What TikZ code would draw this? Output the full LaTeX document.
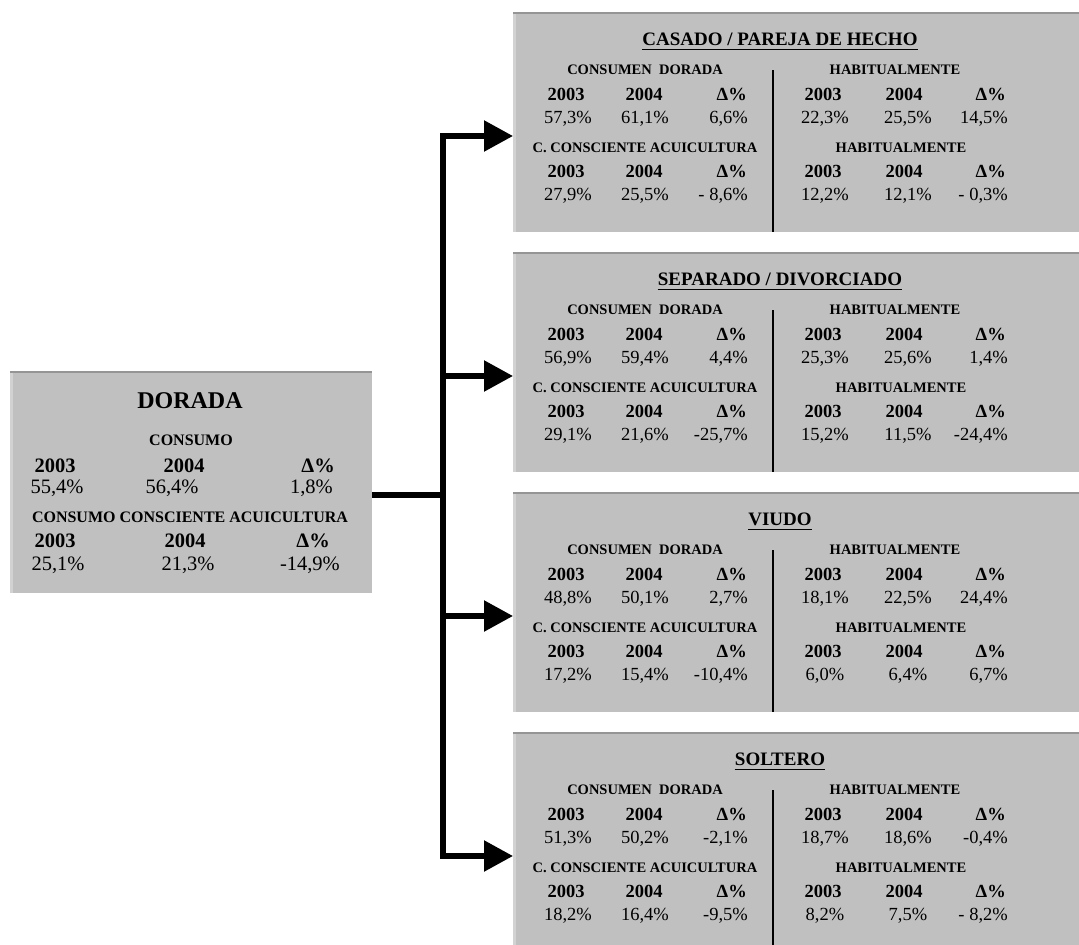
\documentclass[tikz,border=0pt]{standalone}
\usepackage{fontspec}
\setmainfont{Liberation Serif}
\usetikzlibrary{arrows.meta}

\definecolor{fondo}{HTML}{C0C0C0}
\definecolor{borde}{HTML}{959595}
\definecolor{luz}{HTML}{D2D2D2}

\tikzset{
  caja/.style={fill=fondo, draw=none, inner sep=0pt, anchor=north west},
  titulo/.style={font=\fontsize{19}{22}\selectfont\bfseries, inner sep=0pt, anchor=base},
  cab/.style={font=\fontsize{14.5}{16}\selectfont\bfseries, inner sep=0pt, anchor=base},
  anio/.style={font=\fontsize{18.5}{20}\selectfont\bfseries, inner sep=0pt, anchor=base},
  dato/.style={font=\fontsize{18.5}{20}\selectfont, inner sep=0pt, anchor=base},
  conn/.style={line width=5.5pt, -{Triangle[length=29pt,width=30pt]}},
}

% one grey box of the right column
\newcommand{\cuadro}[3]{%
  \node[caja, minimum width=570pt, minimum height=219pt] (#1) at (513,#2) {};
  \draw[luz, line width=2.5pt] ([xshift=1.25pt]#1.north west) -- ([xshift=1.25pt]#1.south west);
  \draw[borde, line width=1.5pt] (#1.north west) -- (#1.north east);
  \node[titulo] (#1-t) at ([shift={(267,32)}]#1.north west) {#3};
  \draw[line width=1.3pt] ([yshift=-4.5pt]#1-t.base west) -- ([yshift=-4.5pt]#1-t.base east);
  \draw[line width=1.2pt] ([shift={(260,57)}]#1.north west) -- ([shift={(260,219)}]#1.north west);
  \node[cab] (#1-h1) at ([shift={(132,61)}]#1.north west) {CONSUMEN\ \ DORADA};
  \node[cab] (#1-h2) at ([shift={(382,61)}]#1.north west) {HABITUALMENTE};
  \node[cab] (#1-h3) at ([shift={(132,139)}]#1.north west) {C. CONSCIENTE ACUICULTURA};
  \node[cab] (#1-h4) at ([shift={(388,139)}]#1.north west) {HABITUALMENTE};
  \foreach \f/\k in {87/a, 164/b} {
    \node[anio] (#1-\k1) at ([shift={(53,\f)}]#1.north west) {2003};
    \node[anio] (#1-\k2) at ([shift={(131,\f)}]#1.north west) {2004};
    \node[anio, anchor=base east] (#1-\k3) at ([shift={(234,\f)}]#1.north west) {Δ\%};
    \node[anio] (#1-\k4) at ([shift={(310,\f)}]#1.north west) {2003};
    \node[anio] (#1-\k5) at ([shift={(391,\f)}]#1.north west) {2004};
    \node[anio, anchor=base east] (#1-\k6) at ([shift={(493,\f)}]#1.north west) {Δ\%};
  }
}

% one row of percentages
\newcommand{\valores}[8]{%
  \node[dato] (#1-#2-1) at ([shift={(55,#2)}]#1.north west) {#3};
  \node[dato] (#1-#2-2) at ([shift={(132,#2)}]#1.north west) {#4};
  \node[dato, anchor=base east] (#1-#2-3) at ([shift={(235,#2)}]#1.north west) {#5};
  \node[dato] (#1-#2-4) at ([shift={(312,#2)}]#1.north west) {#6};
  \node[dato] (#1-#2-5) at ([shift={(395,#2)}]#1.north west) {#7};
  \node[dato, anchor=base east] (#1-#2-6) at ([shift={(495,#2)}]#1.north west) {#8};
}

\begin{document}
\begin{tikzpicture}[x=1pt, y=-1pt]
  \useasboundingbox (0,0) rectangle (1079,945);

  % left box
  \node[caja, minimum width=362pt, minimum height=221pt] (dorada) at (10,372) {};
  \draw[luz, line width=2.5pt] ([xshift=1.25pt]dorada.north west) -- ([xshift=1.25pt]dorada.south west);
  \draw[borde, line width=1.5pt] (dorada.north west) -- (dorada.north east);
  \node[titulo, font=\fontsize{24}{28}\selectfont\bfseries] (dor-t) at (190,408) {DORADA};
  \node[cab, font=\fontsize{16}{18}\selectfont\bfseries] (dor-h1) at (191,445) {CONSUMO};
  \node[anio, font=\fontsize{20.5}{22}\selectfont\bfseries] (dor-a1) at (55,472) {2003};
  \node[anio, font=\fontsize{20.5}{22}\selectfont\bfseries] (dor-a2) at (184,472) {2004};
  \node[anio, font=\fontsize{20.5}{22}\selectfont\bfseries, anchor=base east] (dor-a3) at (335,472) {Δ\%};
  \node[dato, font=\fontsize{20.5}{22}\selectfont] (dor-v1) at (57,493) {55,4\%};
  \node[dato, font=\fontsize{20.5}{22}\selectfont] (dor-v2) at (172,493) {56,4\%};
  \node[dato, font=\fontsize{20.5}{22}\selectfont, anchor=base east] (dor-v3) at (333,493) {1,8\%};
  \node[cab, font=\fontsize{16}{18}\selectfont\bfseries] (dor-h2) at (190,522) {CONSUMO CONSCIENTE ACUICULTURA};
  \node[anio, font=\fontsize{20.5}{22}\selectfont\bfseries] (dor-b1) at (55,547) {2003};
  \node[anio, font=\fontsize{20.5}{22}\selectfont\bfseries] (dor-b2) at (185,547) {2004};
  \node[anio, font=\fontsize{20.5}{22}\selectfont\bfseries, anchor=base east] (dor-b3) at (330,547) {Δ\%};
  \node[dato, font=\fontsize{20.5}{22}\selectfont] (dor-w1) at (58,570) {25,1\%};
  \node[dato, font=\fontsize{20.5}{22}\selectfont] (dor-w2) at (188,570) {21,3\%};
  \node[dato, font=\fontsize{20.5}{22}\selectfont, anchor=base east] (dor-w3) at (340,570) {-14,9\%};

  % right column
  \cuadro{casado}{13}{CASADO / PAREJA DE HECHO}
  \valores{casado}{110}{57,3\%}{61,1\%}{6,6\%}{22,3\%}{25,5\%}{14,5\%}
  \valores{casado}{187}{27,9\%}{25,5\%}{- 8,6\%}{12,2\%}{12,1\%}{- 0,3\%}

  \cuadro{separado}{253}{SEPARADO / DIVORCIADO}
  \valores{separado}{110}{56,9\%}{59,4\%}{4,4\%}{25,3\%}{25,6\%}{1,4\%}
  \valores{separado}{187}{29,1\%}{21,6\%}{-25,7\%}{15,2\%}{11,5\%}{-24,4\%}

  \cuadro{viudo}{493}{VIUDO}
  \valores{viudo}{110}{48,8\%}{50,1\%}{2,7\%}{18,1\%}{22,5\%}{24,4\%}
  \valores{viudo}{187}{17,2\%}{15,4\%}{-10,4\%}{6,0\%}{6,4\%}{6,7\%}

  \cuadro{soltero}{733}{SOLTERO}
  \valores{soltero}{110}{51,3\%}{50,2\%}{-2,1\%}{18,7\%}{18,6\%}{-0,4\%}
  \valores{soltero}{187}{18,2\%}{16,4\%}{-9,5\%}{8,2\%}{7,5\%}{- 8,2\%}

  % connectors
  \coordinate (hub) at (443,495);
  \draw[line width=5.5pt] ([yshift=-123pt]dorada.north east) -- (hub);
  \foreach \n in {casado, separado, viudo, soltero}
    \draw[conn] (hub) |- ([yshift=-123pt]\n.north west);
\end{tikzpicture}
\end{document}
